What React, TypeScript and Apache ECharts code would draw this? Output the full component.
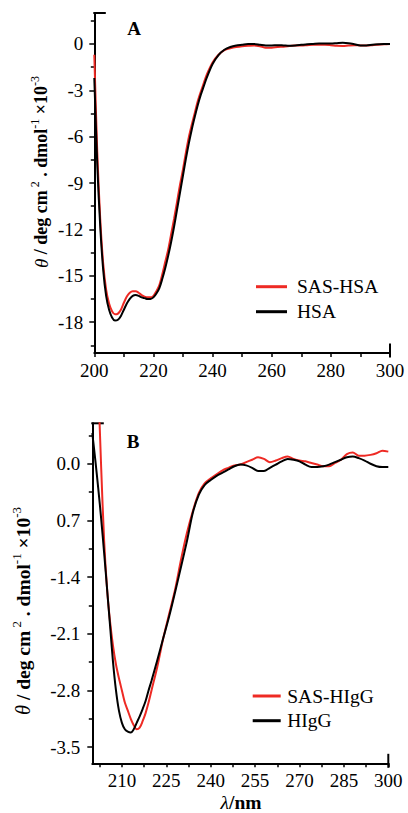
import React, { useEffect, useRef } from "react";
import * as echarts from "echarts";

// ---------- Panel A data (HSA) ----------
const waveA = [200, 201, 202, 203, 204, 205, 206, 207, 208, 209, 210, 211, 212, 213, 214, 215, 216, 217, 218, 219, 220, 221, 222, 223, 224, 225, 226, 227, 228, 229, 230, 231, 232, 233, 234, 235, 236, 237, 238, 240, 242, 244, 246, 248, 250, 252, 254, 256, 258, 260, 262, 264, 266, 268, 270, 272, 274, 276, 278, 280, 282, 284, 286, 288, 290, 292, 294, 296, 298, 300];
const sasHsa = [-0.7, -7.0, -11.3, -14.2, -15.9, -16.8, -17.3, -17.5, -17.45, -17.2, -16.75, -16.35, -16.1, -16.0, -16.0, -16.1, -16.25, -16.35, -16.4, -16.4, -16.3, -16.0, -15.6, -14.9, -14.1, -13.3, -12.3, -11.3, -10.2, -9.1, -8.1, -7.0, -6.0, -5.2, -4.45, -3.7, -3.1, -2.55, -2.0, -1.2, -0.7, -0.4, -0.28, -0.2, -0.15, -0.12, -0.1, -0.15, -0.25, -0.25, -0.2, -0.18, -0.14, -0.1, -0.1, -0.08, -0.06, -0.05, -0.05, -0.08, -0.12, -0.13, -0.1, -0.08, -0.1, -0.1, -0.08, -0.05, -0.02, 0.0];
const hsa = [-2.2, -7.8, -11.8, -14.6, -16.3, -17.2, -17.7, -17.9, -17.85, -17.6, -17.2, -16.8, -16.5, -16.3, -16.25, -16.3, -16.4, -16.45, -16.5, -16.5, -16.4, -16.15, -15.8, -15.2, -14.5, -13.7, -12.8, -11.8, -10.7, -9.6, -8.5, -7.4, -6.4, -5.5, -4.7, -3.95, -3.3, -2.75, -2.2, -1.3, -0.72, -0.38, -0.2, -0.1, -0.05, 0.0, 0.0, -0.05, -0.1, -0.1, -0.08, -0.1, -0.12, -0.1, -0.06, -0.02, 0.0, 0.02, 0.02, 0.02, 0.05, 0.08, 0.05, -0.02, -0.1, -0.1, -0.05, -0.02, 0.0, 0.0];

const xTicksA = [200, 220, 240, 260, 280, 300];
const xMinorA = [210, 230, 250, 270, 290];
const yTicksA = [0, -3, -6, -9, -12, -15, -18];
const yMinorA = [1.5, -1.5, -4.5, -7.5, -10.5, -13.5, -16.5, -19.5];

// ---------- Panel B data (HIgG) ----------
const waveB = [200, 201, 202, 203, 204, 205, 206, 207, 208, 209, 210, 211, 212, 213, 214, 215, 216, 217, 218, 219, 220, 222, 224, 226, 228, 230, 232, 234, 236, 238, 240, 242, 244, 246, 248, 250, 252, 254, 256, 258, 260, 262, 264, 266, 268, 270, 272, 274, 276, 278, 280, 282, 284, 286, 288, 290, 292, 294, 296, 298, 300];
const sasHIgG = [3.2, 2.1, 1.0, -0.05, -0.95, -1.55, -1.95, -2.25, -2.48, -2.65, -2.8, -2.95, -3.05, -3.15, -3.23, -3.28, -3.26, -3.18, -3.08, -2.95, -2.8, -2.5, -2.15, -1.85, -1.55, -1.18, -0.85, -0.58, -0.36, -0.24, -0.18, -0.13, -0.08, -0.05, -0.02, -0.01, 0.02, 0.05, 0.08, 0.06, 0.02, 0.04, 0.07, 0.09, 0.06, 0.04, 0.03, 0.01, -0.01, -0.03, -0.03, 0.01, 0.05, 0.12, 0.14, 0.1, 0.1, 0.11, 0.13, 0.16, 0.15];
const hIgG = [0.38, 0.05, -0.3, -0.68, -1.1, -1.55, -2.0, -2.45, -2.8, -3.05, -3.2, -3.28, -3.31, -3.32, -3.28, -3.2, -3.12, -3.03, -2.93, -2.8, -2.68, -2.42, -2.15, -1.88, -1.58, -1.27, -0.95, -0.6, -0.38, -0.26, -0.2, -0.15, -0.11, -0.07, -0.03, -0.01, -0.02, -0.05, -0.09, -0.09, -0.05, -0.01, 0.03, 0.06, 0.05, 0.03, -0.01, -0.04, -0.04, -0.03, -0.01, 0.02, 0.05, 0.08, 0.09, 0.07, 0.04, 0.0, -0.03, -0.04, -0.04];

const xTicksB = [210, 225, 240, 255, 270, 285, 300];
const xMinorB = [202.5, 217.5, 232.5, 247.5, 262.5, 277.5, 292.5];
const yTicksB = [0, -0.7, -1.4, -2.1, -2.8, -3.5];
const yTickLabelsB = ["0.0", "0.7", "-1.4", "-2.1", "-2.8", "-3.5"];
const yMinorB = [0.35, -0.35, -1.05, -1.75, -2.45, -3.15];

const RED = "#ee2a24";
const BLACK = "#000000";
const FONT = "'Liberation Serif', 'Times New Roman', serif";

const gridA = { left: 94.3, top: 13, width: 295.7, height: 340 };
const gridB = { left: 92.3, top: 423.3, width: 296, height: 340 };

function mainX(gridIndex: number, min: number, max: number, ticks: number[]) {
  return {
    type: "value", gridIndex, min, max, position: "bottom",
    axisLine: { show: true, onZero: false, lineStyle: { color: BLACK, width: 2 } },
    axisTick: { show: true, customValues: ticks, length: 4, lineStyle: { color: BLACK, width: 1.5 } },
    axisLabel: { show: true, customValues: ticks, margin: 8, color: BLACK, fontFamily: FONT, fontSize: 19 },
    splitLine: { show: false },
  };
}
function minorX(gridIndex: number, min: number, max: number, ticks: number[]) {
  return {
    type: "value", gridIndex, min, max, position: "bottom",
    axisLine: { show: false, onZero: false },
    axisTick: { show: true, customValues: ticks, length: 4, lineStyle: { color: BLACK, width: 1.5 } },
    axisLabel: { show: false },
    splitLine: { show: false },
  };
}
function mainY(gridIndex: number, min: number, max: number, ticks: number[], margin: number, fmt?: (v: number) => string) {
  return {
    type: "value", gridIndex, min, max, position: "left",
    axisLine: { show: true, onZero: false, lineStyle: { color: BLACK, width: 2 } },
    axisTick: { show: true, customValues: ticks, length: 5, lineStyle: { color: BLACK, width: 1.5 } },
    axisLabel: { show: true, customValues: ticks, margin, color: BLACK, fontFamily: FONT, fontSize: 19, formatter: fmt },
    splitLine: { show: false },
  };
}
function minorY(gridIndex: number, min: number, max: number, ticks: number[]) {
  return {
    type: "value", gridIndex, min, max, position: "left",
    axisLine: { show: false, onZero: false },
    axisTick: { show: true, customValues: ticks, length: 3.5, lineStyle: { color: BLACK, width: 1.5 } },
    axisLabel: { show: false },
    splitLine: { show: false },
  };
}

function titleText(x: number, y: number, size: number) {
  const sup = Math.round(size * 0.66);
  return {
    type: "text", x, y, rotation: Math.PI / 2, silent: true,
    style: {
      text: "{t|θ}{n| / deg cm}{s| 2}{n| . dmol}{s|-1}{n| ×10}{s|-3}",
      align: "center", verticalAlign: "middle", fill: BLACK,
      rich: {
        t: { fontFamily: FONT, fontStyle: "italic", fontSize: size + 1, fill: BLACK },
        n: { fontFamily: FONT, fontWeight: "bold", fontSize: size, fill: BLACK },
        s: { fontFamily: FONT, fontSize: sup, fill: BLACK, padding: [0, 0, 13, 0] },
      },
    },
  };
}

function stubLines(g: { left: number; top: number; width: number; height: number }) {
  const right = g.left + g.width;
  const bottom = g.top + g.height;
  return [
    { type: "line", silent: true, shape: { x1: g.left - 1, y1: g.top, x2: g.left + 11.5, y2: g.top }, style: { stroke: BLACK, lineWidth: 2 } },
    { type: "line", silent: true, shape: { x1: right, y1: bottom - 9.5, x2: right, y2: bottom + 4.5 }, style: { stroke: BLACK, lineWidth: 2 } },
  ];
}

export default function App() {
  const ref = useRef<HTMLDivElement>(null);
  useEffect(() => {
    if (!ref.current) return;
    const chart = echarts.init(ref.current, undefined, { renderer: "svg" });
    const fmtB = (v: number) => {
      const i = yTicksB.findIndex((t) => Math.abs(t - v) < 1e-6);
      return i >= 0 ? yTickLabelsB[i] : String(v);
    };
    const lineSeries = (name: string, xi: number, xs: number[], ys: number[], color: string, z: number) => ({
      type: "line", name, xAxisIndex: xi, yAxisIndex: xi,
      data: xs.map((w, i) => [w, ys[i]]),
      showSymbol: false, symbol: "none", smooth: 0.3, clip: true, z,
      lineStyle: { color, width: 2 }, itemStyle: { color },
    });
    const legendText = { fontFamily: FONT, fontSize: 19.5, color: BLACK, lineHeight: 22 };
    chart.setOption({
      animation: false,
      backgroundColor: "#ffffff",
      grid: [
        { ...gridA, containLabel: false },
        { ...gridB, containLabel: false },
      ],
      xAxis: [
        mainX(0, 200, 300, xTicksA),
        minorX(0, 200, 300, xMinorA),
        mainX(1, 200, 300, xTicksB),
        minorX(1, 200, 300, xMinorB),
      ],
      yAxis: [
        mainY(0, -20, 2, yTicksA, 11),
        minorY(0, -20, 2, yMinorA),
        mainY(1, -3.7, 0.5, yTicksB, 12, fmtB),
        minorY(1, -3.7, 0.5, yMinorB),
      ],
      legend: [
        {
          left: 256, top: 275.7, orient: "vertical", padding: 0, itemGap: 3,
          itemWidth: 31, itemHeight: 3, icon: "rect", selectedMode: false,
          data: ["SAS-HSA", "HSA"], textStyle: { ...legendText, padding: [0, 0, 0, 5] },
        },
        {
          left: 252.7, top: 685, orient: "vertical", padding: 0, itemGap: 2.7,
          itemWidth: 28, itemHeight: 3, icon: "rect", selectedMode: false,
          data: ["SAS-HIgG", "HIgG"], textStyle: { ...legendText, padding: [0, 0, 0, 1.5] },
        },
      ],
      series: [
        lineSeries("SAS-HSA", 0, waveA, sasHsa, RED, 2),
        lineSeries("HSA", 0, waveA, hsa, BLACK, 3),
        lineSeries("SAS-HIgG", 2, waveB, sasHIgG, RED, 2),
        lineSeries("HIgG", 2, waveB, hIgG, BLACK, 3),
      ],
      graphic: [
        ...stubLines(gridA),
        ...stubLines(gridB),
        titleText(41, 172, 18),
        titleText(23, 611, 19.5),
        { type: "text", x: 134, y: 28.5, silent: true, style: { text: "A", align: "center", verticalAlign: "middle", fontFamily: FONT, fontWeight: "bold", fontSize: 19, fill: BLACK } },
        { type: "text", x: 133, y: 441.7, silent: true, style: { text: "B", align: "center", verticalAlign: "middle", fontFamily: FONT, fontWeight: "bold", fontSize: 19, fill: BLACK } },
        {
          type: "text", x: 241, y: 802, silent: true,
          style: {
            text: "{i|λ}{n|/nm}", align: "center", verticalAlign: "middle", fill: BLACK,
            rich: {
              i: { fontFamily: FONT, fontStyle: "italic", fontSize: 19.5, fill: BLACK },
              n: { fontFamily: FONT, fontWeight: "bold", fontSize: 19.5, fill: BLACK },
            },
          },
        },
      ],
    });
    return () => chart.dispose();
  }, []);
  return (
    <div
      ref={ref}
      style={{ position: "absolute", left: 0, top: 0, width: 408, height: 813 }}
    />
  );
}
